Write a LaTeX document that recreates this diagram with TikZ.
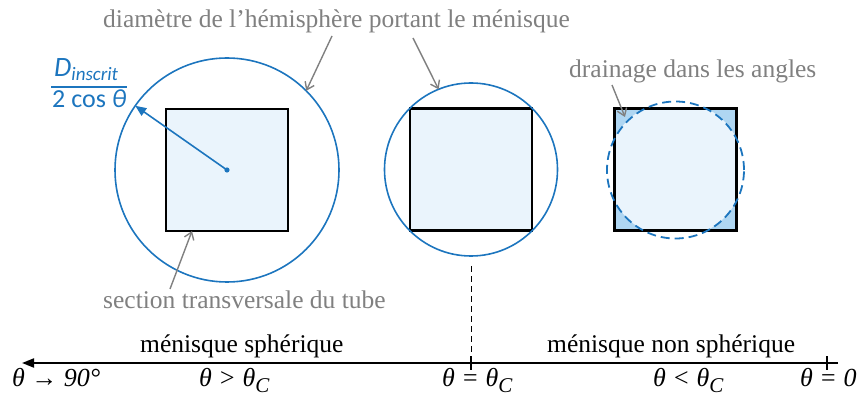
\documentclass[tikz,border=0pt]{standalone}
\usepackage{fontspec}
\setmainfont{Liberation Serif}
\newfontfamily\calib{Carlito}
\usetikzlibrary{arrows.meta}
\definecolor{mblue}{HTML}{1C75BE}
\definecolor{lightfill}{HTML}{EAF4FC}
\definecolor{darkfill}{HTML}{AFD6F2}
\definecolor{graytxt}{HTML}{808080}
\newcommand{\subC}{\raisebox{-6pt}{\fontsize{21}{21}\selectfont\itshape C}}
\begin{document}
\begin{tikzpicture}[x=1pt,y=-1pt,
  sq/.style={draw=black,line width=2.6pt,fill=lightfill,minimum size=122pt,inner sep=0pt,outer sep=0pt},
  circ/.style={draw=mblue,line width=1.6pt,circle,inner sep=0pt,outer sep=0pt},
  graylab/.style={text=graytxt,font=\fontsize{25.5}{30}\selectfont,inner sep=0pt,anchor=base west},
  blacklab/.style={text=black,font=\fontsize{25.5}{30}\selectfont,inner sep=0pt,anchor=base west},
  thetalab/.style={text=black,font=\fontsize{26}{30}\selectfont\itshape,inner sep=0pt,anchor=base west},
  grayarrow/.style={draw=graytxt,line width=1.4pt,-{Straight Barb[length=7pt,width=10pt,line width=1.4pt]}},
  tickmark/.style={draw=black,line width=1.6pt}
]
\useasboundingbox (0,0) rectangle (865,398);

% left figure
\node[circ,minimum size=224pt] (c1) at (227,170) {};
\node[sq] (s1) at (227,170) {};
\fill[mblue] (s1.center) circle (2.6pt);
\draw[mblue,line width=1.6pt,-{Triangle[length=11pt,width=9pt]}] (s1.center) -- (c1.145);

% middle figure
\node[sq] (s2) at (471,169.5) {};
\node[circ,minimum size=173pt] (c2) at (471,169.5) {};

% right figure
\node[sq,fill=darkfill,path picture={\fill[lightfill] (path picture bounding box.center) circle (68.5pt);}] (s3) at (675.5,169.5) {};
\node[circ,dashed,dash pattern=on 9pt off 5pt,line width=1.8pt,minimum size=137pt] (c3) at (675.5,170) {};

% blue label
\node[text=mblue,font=\calib\fontsize{28}{30}\selectfont,inner sep=0pt,anchor=base west] (num) at (54,77) {\itshape D\raisebox{-4pt}{\fontsize{19}{19}\selectfont inscrit}};
\node[text=mblue,font=\calib\fontsize{26}{30}\selectfont,inner sep=0pt,anchor=base west] (den) at (52,108) {2 cos \itshape θ};
\coordinate (barL) at (51,87);
\coordinate (barR) at (127,87);
\draw[mblue,line width=1.3pt] (barL) -- (barR);

% gray labels and arrows
\node[graylab] (t1) at (103,28) {diamètre de l’hémisphère portant le ménisque};
\coordinate (t1a) at (332,36);
\coordinate (t1b) at (413,38);
\draw[grayarrow] (t1a) -- (c1.45.7);
\draw[grayarrow] (t1b) -- (c2.112.7);

\node[graylab] (t2) at (569,78) {drainage dans les angles};
\coordinate (t2a) at (612,85);
\coordinate (t2b) at (625,117);
\draw[grayarrow] (t2a) -- (t2b);

\node[graylab] (t3) at (103,308) {section transversale du tube};
\coordinate (t3a) at (170,289);
\coordinate (t3b) at (192,231);
\draw[grayarrow] (t3a) -- (t3b);

% axis
\coordinate (aR) at (838,363);
\coordinate (aL) at (22,363);
\coordinate (m1) at (471,363);
\coordinate (m2) at (827,363);
\draw[line width=1.8pt,-{Triangle[length=12pt,width=9pt]}] (aR) -- (aL);
\draw[tickmark] ([yshift=7pt]m1) -- ([yshift=-7pt]m1);
\draw[tickmark] ([yshift=7pt]m2) -- ([yshift=-7pt]m2);
\draw[line width=1pt,dash pattern=on 6pt off 4pt] ([yshift=-10pt]c2.south) -- (m1);

\node[blacklab] (l1) at (140,352) {ménisque sphérique};
\node[blacklab] (l2) at (547,352) {ménisque non sphérique};

\node[thetalab] (b1) at (12,386) {θ → 90°};
\node[thetalab] (b2) at (199,386) {θ > θ\subC};
\node[thetalab] (b3) at (442,386) {θ = θ\subC};
\node[thetalab] (b4) at (653,386) {θ < θ\subC};
\node[thetalab] (b5) at (800,386) {θ = 0};
\end{tikzpicture}
\end{document}
